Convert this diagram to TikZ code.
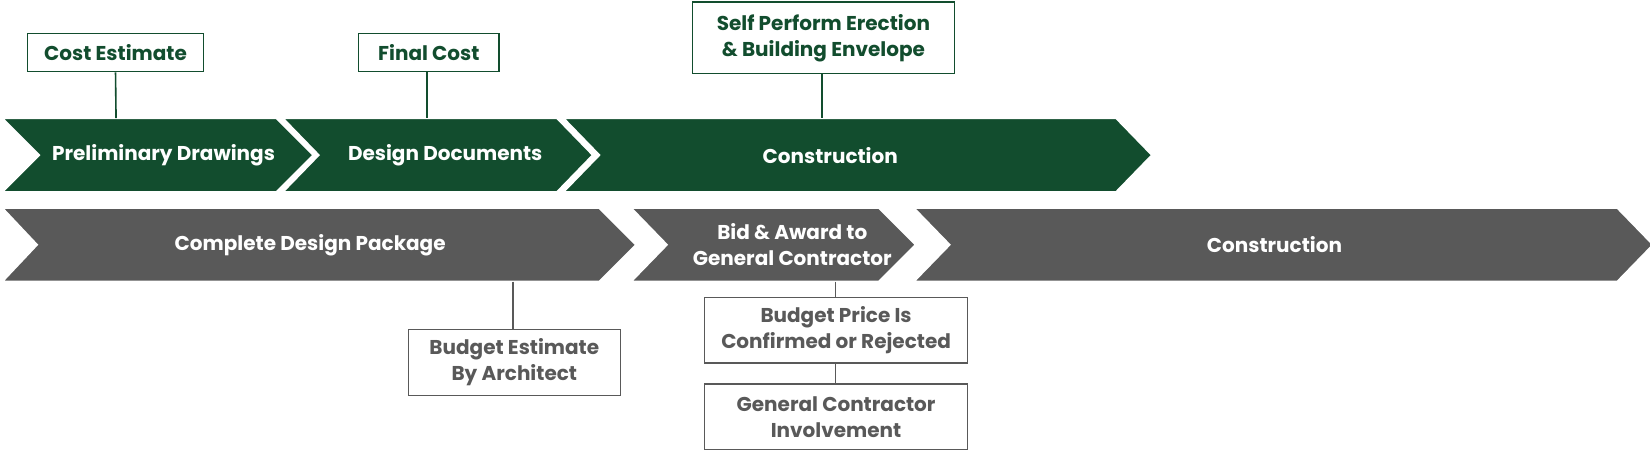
\documentclass[tikz,border=0pt]{standalone}
\usepackage{fontspec}
\setmainfont{Poppins}
\definecolor{gr}{HTML}{124D2E}
\definecolor{gy}{HTML}{595959}
\begin{document}
\begin{tikzpicture}[x=0.5275pt,y=-0.5275pt,
 chev/.style={draw=white,line width=1pt},
 lbl/.style={text=white,font=\fontsize{10}{13}\selectfont\bfseries,align=center},
 gbox/.style={draw=gr,line width=0.6pt,fill=white,text=gr,font=\fontsize{10}{13}\selectfont\bfseries,align=center,inner sep=0pt},
 ybox/.style={draw=gy,line width=0.6pt,fill=white,text=gy,font=\fontsize{10}{13}\selectfont\bfseries,align=center,inner sep=0pt},
 gl/.style={draw=gr,line width=0.8pt},
 yl/.style={draw=gy,line width=0.8pt}]
\useasboundingbox (0,0) rectangle (1564,427);
% green chevrons
\fill[gr,chev] (2,112)--(262,112)--(297,147)--(262,182)--(2,182)--(37,147)--cycle;
\fill[gr,chev] (268,112)--(528,112)--(562,147)--(528,182)--(268,182)--(302,147)--cycle;
\fill[gr,chev] (534,112)--(1058,112)--(1092,147)--(1058,182)--(534,182)--(568,147)--cycle;
\node[lbl] (g1) at (155,147) {Preliminary Drawings};
\node[lbl] (g2) at (422,147) {Design Documents};
\node[lbl] (g3) at (787,147) {Construction};
% gray chevrons
\fill[gy,chev] (2,197)--(568,197)--(603,232)--(568,267)--(2,267)--(35,232)--cycle;
\fill[gy,chev] (598,197)--(833,197)--(868,232)--(833,267)--(598,267)--(632,232)--cycle;
\fill[gy,chev] (866,197)--(1533,197)--(1567,232)--(1533,267)--(866,267)--(900,232)--cycle;
\node[lbl] (y1) at (294,232) {Complete Design Package};
\node[lbl] (y2) at (751,232) {Bid \& Award to\\General Contractor};
\node[lbl] (y3) at (1208,232) {Construction};
% green boxes
\node[gbox,minimum width=88.1pt,minimum height=19pt] (b1) at (109.5,50) {Cost Estimate};
\node[gbox,minimum width=70.2pt,minimum height=19pt] (b2) at (406.5,50) {Final Cost};
\node[gbox,minimum width=131.3pt,minimum height=35.9pt] (b3) at (780.5,36) {Self Perform Erection\\\& Building Envelope};
\coordinate (c1) at (110,112); \coordinate (c2) at (405,112); \coordinate (c3) at (779,112);
\draw[gl] (b1.south) -- (c1);
\draw[gl] (b2.south -| c2) -- (c2);
\draw[gl] (b3.south -| c3) -- (c3);
% gray boxes
\node[ybox,minimum width=106pt,minimum height=33.2pt] (d1) at (487.5,343.5) {Budget Estimate\\By Architect};
\node[ybox,minimum width=131.3pt,minimum height=32.7pt] (d2) at (792.5,313) {Budget Price Is\\Confirmed or Rejected};
\node[ybox,minimum width=131.3pt,minimum height=32.7pt] (d3) at (792.5,395) {General Contractor\\Involvement};
\coordinate (e1) at (486,267); \coordinate (e2) at (792,267);
\draw[yl] (e1) -- (d1.north -| e1);
\draw[yl] (e2) -- (d2.north -| e2);
\draw[yl] (d2.south -| e2) -- (d3.north -| e2);
\end{tikzpicture}
\end{document}
